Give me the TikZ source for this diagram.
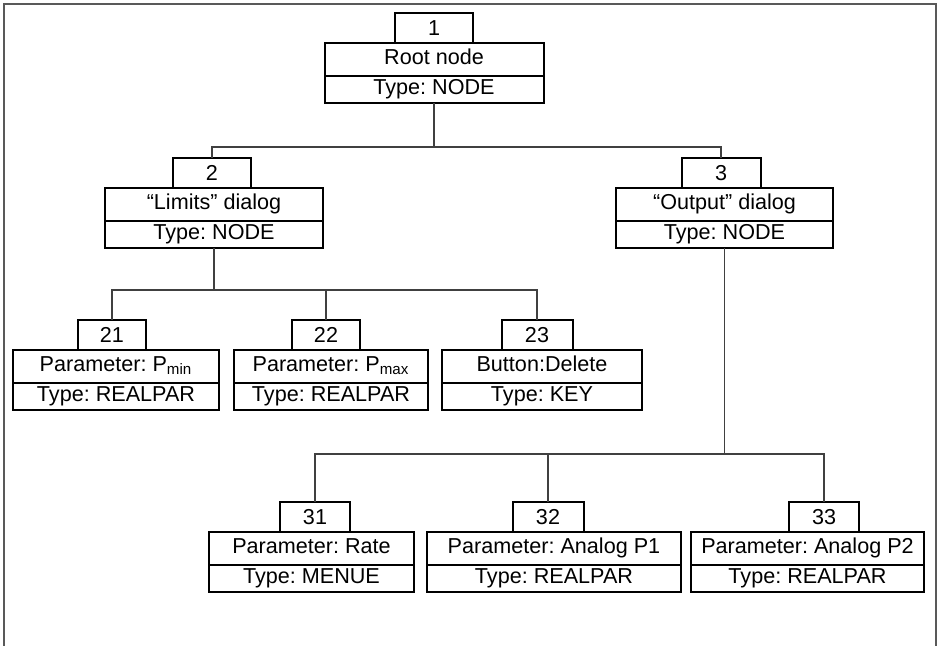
\documentclass[tikz,border=0pt]{standalone}
\usepackage{fontspec}
\setmainfont{Liberation Sans}
\frenchspacing
\usetikzlibrary{positioning,shapes.multipart}

\begin{document}
\begin{tikzpicture}[
    x=0.5pt, y=-0.5pt,
    font=\fontsize{10.8}{12.6}\selectfont,
    entry/.style={draw, line width=1pt, rectangle split, rectangle split parts=2, align=center, anchor=north, inner xsep=2pt, inner ysep=1.45pt, outer sep=0pt, text height=8.8pt, text depth=3.8pt},
    idbox/.style={draw, line width=1pt, anchor=south, minimum height=15pt, inner sep=0pt, outer sep=0pt},
    link/.style={draw=black!75, line width=0.6pt},
    frame/.style={draw=black!65, line width=1pt}
]
\useasboundingbox (0,0) rectangle (941,646);
\draw[frame] (4,646) -- (4,4) -- (936,4) -- (936,646);

% top level
\node[entry, minimum width=109.5pt] (n1) at (434,43) {Root node\nodepart{two}Type: NODE};
\node[idbox, minimum width=39pt] (n1id) at (434,43) {1};

% dialogs
\node[entry, minimum width=109pt] (n2) at (214,188) {“Limits” dialog\nodepart{two}Type: NODE};
\node[idbox, minimum width=39pt] (n2id) at (212,188) {2};
\node[entry, minimum width=108.5pt] (n3) at (724.5,188) {“Output” dialog\nodepart{two}Type: NODE};
\node[idbox, minimum width=39.5pt] (n3id) at (721,188) {3};

% limits entries
\node[entry, minimum width=103pt] (n21) at (116,350) {Parameter: P\textsubscript{min}\nodepart{two}Type: REALPAR};
\node[idbox, minimum width=34pt] (n21id) at (112,350) {21};
\node[entry, minimum width=97pt] (n22) at (331,350) {Parameter: P\textsubscript{max}\nodepart{two}Type: REALPAR};
\node[idbox, minimum width=34pt] (n22id) at (326,350) {22};
\node[entry, minimum width=100pt] (n23) at (542,350) {Button:Delete\nodepart{two}Type: KEY};
\node[idbox, minimum width=35.5pt] (n23id) at (537,350) {23};

% output entries
\node[entry, minimum width=102.5pt] (n31) at (311.5,532) {Parameter: Rate\nodepart{two}Type: MENUE};
\node[idbox, minimum width=35pt] (n31id) at (315,532) {31};
\node[entry, minimum width=127pt] (n32) at (554,532) {Parameter: Analog P1\nodepart{two}Type: REALPAR};
\node[idbox, minimum width=35.5pt] (n32id) at (548,532) {32};
\node[entry, minimum width=116.5pt] (n33) at (807.5,532) {Parameter: Analog P2\nodepart{two}Type: REALPAR};
\node[idbox, minimum width=35pt] (n33id) at (824,532) {33};

% connectors
\coordinate (bus1) at (434,147);
\coordinate (bus2) at (216,290);
\coordinate (bus3) at (726,454);
\draw[link] (n1.south) -- (n1.south |- bus1);
\draw[link] (n2id.north) |- (bus1) -| (n3id.north);
\draw[link] (n2.south) -- (n2.south |- bus2);
\draw[link] (n21id.north) |- (bus2) -| (n23id.north);
\draw[link] (n22id.north) -- (n22id.north |- bus2);
\draw[link] (n3.south) -- (n3.south |- bus3);
\draw[link] (n31id.north) |- (bus3) -| (n33id.north);
\draw[link] (n32id.north) -- (n32id.north |- bus3);
\end{tikzpicture}
\end{document}
